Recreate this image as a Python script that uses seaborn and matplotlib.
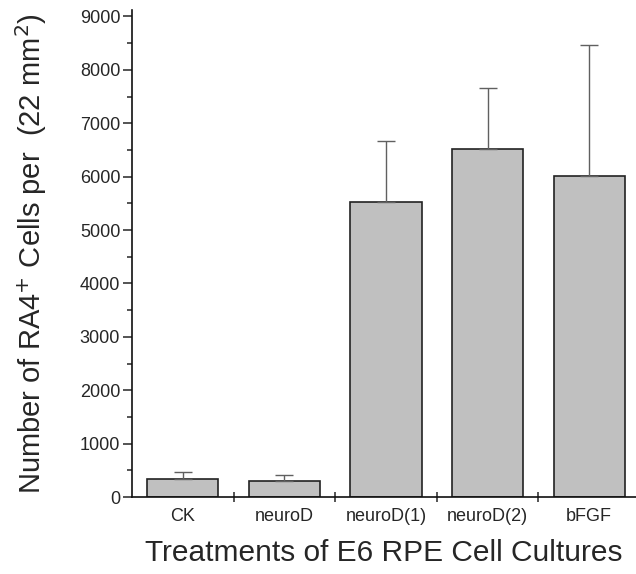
import numpy as np
import pandas as pd
import matplotlib
matplotlib.use('Agg')
import matplotlib.pyplot as plt
from matplotlib.ticker import MultipleLocator, FixedLocator
import seaborn as sns

# datos
tratamientos = ['CK', 'neuroD', 'neuroD(1)', 'neuroD(2)', 'bFGF']
celulas = [335, 305, 5525, 6525, 6005]
error_sup = [135, 115, 1150, 1140, 2465]

sns.set_style('ticks')
plt.rcParams['font.family'] = ['Liberation Sans', 'DejaVu Sans']

data = pd.DataFrame({'tratamiento': tratamientos, 'celulas': celulas})

fig = plt.figure(figsize=(6.36, 5.74), dpi=100)
ax = fig.add_axes([132/636, 1 - 497/574, 1 - 132/636, (497 - 10)/574])

sns.barplot(x='tratamiento', y='celulas', data=data, color='#c0c0c0',
            saturation=1, edgecolor='#222222', linewidth=1.2, width=0.7, ax=ax)

# barras de error solo hacia arriba
pos = np.arange(len(tratamientos))
ax.errorbar(pos, celulas, yerr=[np.zeros(len(error_sup)), error_sup], fmt='none',
            ecolor='#606060', elinewidth=1, capsize=6.5, capthick=1, zorder=1)

ax.set_xlim(-0.5, 4.46)
ax.set_ylim(0, 9120)
ax.yaxis.set_major_locator(FixedLocator(np.arange(0, 9001, 1000)))
ax.yaxis.set_minor_locator(MultipleLocator(500))

# marcas del eje x entre categorias, etiquetas en el centro
ax.set_xticks(pos)
ax.set_xticklabels(tratamientos)
ax.xaxis.set_minor_locator(FixedLocator(pos[:-1] + 0.5))
ax.tick_params(axis='x', which='major', length=0, labelsize=13, pad=8)
ax.tick_params(axis='x', which='minor', direction='inout', length=7, width=1.1)
ax.tick_params(axis='y', which='major', direction='out', length=6.5, width=1.1, labelsize=13, pad=2)
ax.tick_params(axis='y', which='minor', direction='out', length=3.5, width=1.1)

for s in ['top', 'right']:
    ax.spines[s].set_visible(False)
for s in ['left', 'bottom']:
    ax.spines[s].set_linewidth(1.2)
    ax.spines[s].set_color('#111111')

ax.set_xlabel('Treatments of E6 RPE Cell Cultures', fontsize=21.5, labelpad=10)
ax.set_ylabel('Number of RA4$^{+}$ Cells per  (22 mm$^{2}$)', fontsize=21, labelpad=22)

fig.savefig('out.png', dpi=100)
